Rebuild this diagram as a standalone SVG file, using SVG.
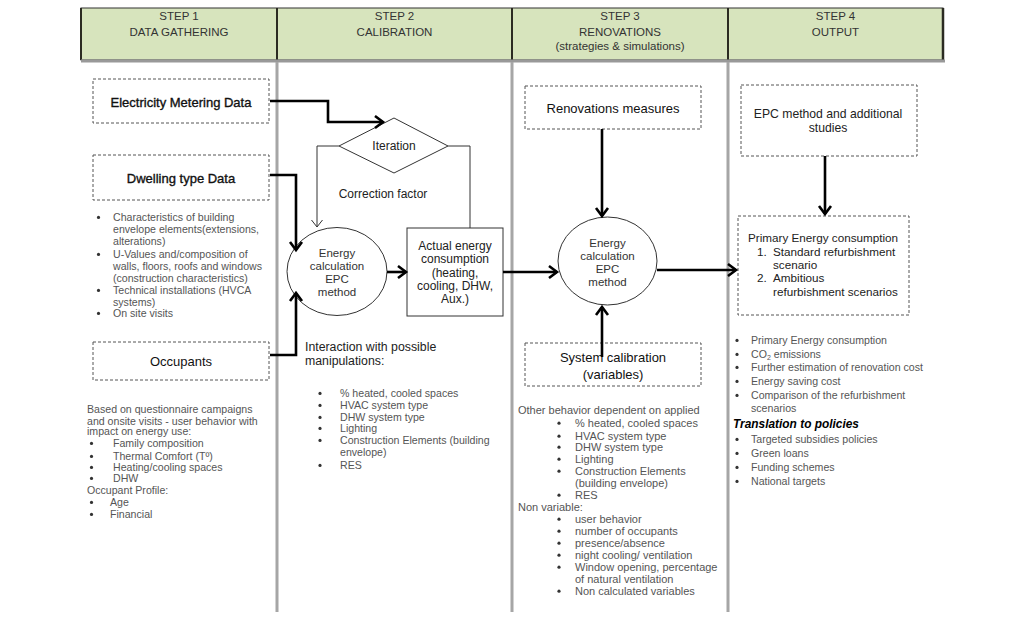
<svg xmlns="http://www.w3.org/2000/svg" width="1024" height="626" viewBox="0 0 1024 626">
<defs>
<style>
text{font-family:"Liberation Sans",Arial,sans-serif;}
.hd{font-size:11.5px;fill:#333;text-anchor:middle;}
.bt{font-size:13px;fill:#111;text-anchor:middle;}
.bb{stroke:#111;stroke-width:0.35;}
.b1{font-size:10.6px;fill:#555;}
.b3{font-size:11px;fill:#555;}
.dt{fill:#333;}
.mid{font-size:12px;fill:#222;text-anchor:middle;}
.ell{font-size:11.5px;fill:#333;text-anchor:middle;}
.dash{fill:#fff;stroke:#555;stroke-width:1;stroke-dasharray:3,2;}
.col{stroke:#a6a6a6;stroke-width:3;fill:none;}
.thick{stroke:#000;stroke-width:2.6;fill:none;}
.thin{stroke:#333;stroke-width:1;fill:none;}
</style>
<marker id="ah" markerUnits="userSpaceOnUse" markerWidth="14" markerHeight="16" refX="11" refY="8" orient="auto">
<path d="M3,2 L11,8 L3,14" fill="none" stroke="#000" stroke-width="2.6"/>
</marker>
<marker id="ahs" markerUnits="userSpaceOnUse" markerWidth="12" markerHeight="14" refX="10" refY="7" orient="auto">
<path d="M3,1.5 L10,7 L3,12.5" fill="none" stroke="#333" stroke-width="1"/>
</marker>
</defs>
<rect width="1024" height="626" fill="#fff"/>

<g id="header">
<rect x="81" y="8" width="862" height="52" fill="#d7e4bd" stroke="#333" stroke-width="1"/>
<line x1="81" y1="8" x2="81" y2="60" stroke="#2b2b22" stroke-width="2"/>
<line x1="277" y1="8" x2="277" y2="60" stroke="#2b2b22" stroke-width="2"/>
<line x1="512" y1="8" x2="512" y2="60" stroke="#2b2b22" stroke-width="2"/>
<line x1="728" y1="8" x2="728" y2="60" stroke="#2b2b22" stroke-width="2"/>
<line x1="943" y1="8" x2="943" y2="60" stroke="#2b2b22" stroke-width="2.5"/>
<line x1="81" y1="61" x2="945" y2="61" stroke="#999" stroke-width="3"/>
<text class="hd" x="179" y="20">STEP 1</text>
<text class="hd" x="179" y="36">DATA GATHERING</text>
<text class="hd" x="394.5" y="20">STEP 2</text>
<text class="hd" x="394.5" y="36">CALIBRATION</text>
<text class="hd" x="620" y="20">STEP 3</text>
<text class="hd" x="620" y="36">RENOVATIONS</text>
<text class="hd" x="620" y="50">(strategies &amp; simulations)</text>
<text class="hd" x="835.5" y="20">STEP 4</text>
<text class="hd" x="835.5" y="36">OUTPUT</text>
</g>

<g id="columns">
<line class="col" x1="277" y1="62" x2="277" y2="612"/>
<line class="col" x1="512" y1="62" x2="512" y2="612"/>
<line class="col" x1="728" y1="62" x2="728" y2="612"/>
</g>

<g id="electricity">
<rect class="dash" x="93" y="79" width="176" height="44"/>
<text class="bt bb" x="181" y="106.5">Electricity Metering Data</text>
</g>

<g id="dwelling">
<rect class="dash" x="93" y="155" width="176" height="45"/>
<text class="bt bb" x="181" y="182.5">Dwelling type Data</text>
</g>

<g id="dwelling-notes" class="b1">
<circle class="dt" cx="98.5" cy="217.4" r="1.6"/><text x="113" y="221">Characteristics of building</text>
<text x="113" y="233">envelope elements(extensions,</text>
<text x="113" y="245">alterations)</text>
<circle class="dt" cx="98.5" cy="254.4" r="1.6"/><text x="113" y="258">U-Values and/composition of</text>
<text x="113" y="270">walls, floors, roofs and windows</text>
<text x="113" y="282">(construction characteristics)</text>
<circle class="dt" cx="98.5" cy="290.4" r="1.6"/><text x="113" y="294">Technical installations (HVCA</text>
<text x="113" y="306">systems)</text>
<circle class="dt" cx="98.5" cy="313.4" r="1.6"/><text x="113" y="317">On site visits</text>
</g>

<g id="occupants">
<rect class="dash" x="93" y="342" width="176" height="38"/>
<text class="bt" x="181" y="365.5">Occupants</text>
</g>

<g id="occupant-notes" class="b1">
<text x="87" y="413">Based on questionnaire campaigns</text>
<text x="87" y="425">and onsite visits - user behavior with</text>
<text x="87" y="435">impact on energy use:</text>
<circle class="dt" cx="91.5" cy="443.4" r="1.6"/><text x="113" y="447">Family composition</text>
<circle class="dt" cx="91.5" cy="456.4" r="1.6"/><text x="113" y="460">Thermal Comfort (Tº)</text>
<circle class="dt" cx="91.5" cy="467.4" r="1.6"/><text x="113" y="471">Heating/cooling spaces</text>
<circle class="dt" cx="91.5" cy="478.4" r="1.6"/><text x="113" y="482">DHW</text>
<text x="87" y="494">Occupant Profile:</text>
<circle class="dt" cx="91.5" cy="502.4" r="1.6"/><text x="110" y="506">Age</text>
<circle class="dt" cx="91.5" cy="514.4" r="1.6"/><text x="110" y="518">Financial</text>
</g>

<g id="iteration">
<polygon points="339,146 394,118 448,146 394,173" fill="#fff" stroke="#333" stroke-width="1"/>
<text class="mid" x="394" y="150">Iteration</text>
</g>

<g id="correction-label">
<text class="mid" x="383" y="198">Correction factor</text>
</g>

<g id="epc-calc-2">
<ellipse cx="337" cy="271.5" rx="50" ry="44" fill="#fff" stroke="#333" stroke-width="1"/>
<text class="ell" x="337" y="257">Energy</text>
<text class="ell" x="337" y="270">calculation</text>
<text class="ell" x="337" y="283">EPC</text>
<text class="ell" x="337" y="296">method</text>
</g>

<g id="actual">
<rect x="407" y="228" width="96" height="88" fill="#fff" stroke="#333" stroke-width="1"/>
<text class="mid" x="455" y="250">Actual energy</text>
<text class="mid" x="455" y="263">consumption</text>
<text class="mid" x="455" y="277">(heating,</text>
<text class="mid" x="455" y="290">cooling, DHW,</text>
<text class="mid" x="455" y="303">Aux.)</text>
</g>

<g id="calibration-notes">
<text x="305" y="351" style="font-size:12.3px;fill:#222">Interaction with possible</text>
<text x="305" y="365" style="font-size:12.3px;fill:#222">manipulations:</text>
<g class="b1">
<circle class="dt" cx="320" cy="393.4" r="1.6"/><text x="340" y="397">% heated, cooled spaces</text>
<circle class="dt" cx="320" cy="405.4" r="1.6"/><text x="340" y="409">HVAC system type</text>
<circle class="dt" cx="320" cy="417.4" r="1.6"/><text x="340" y="421">DHW system type</text>
<circle class="dt" cx="320" cy="428.4" r="1.6"/><text x="340" y="432">Lighting</text>
<circle class="dt" cx="320" cy="440.4" r="1.6"/><text x="340" y="444">Construction Elements (building</text>
<text x="340" y="456">envelope)</text>
<circle class="dt" cx="320" cy="465.4" r="1.6"/><text x="340" y="469">RES</text>
</g>
</g>

<g id="renovations">
<rect class="dash" x="525" y="86" width="176" height="43"/>
<text class="bt" x="613" y="112.5">Renovations measures</text>
</g>

<g id="epc-calc-3">
<ellipse cx="607.5" cy="261" rx="49.5" ry="44" fill="#fff" stroke="#333" stroke-width="1"/>
<text class="ell" x="607.5" y="247">Energy</text>
<text class="ell" x="607.5" y="260">calculation</text>
<text class="ell" x="607.5" y="273">EPC</text>
<text class="ell" x="607.5" y="286">method</text>
</g>

<g id="system-calibration">
<rect class="dash" x="525" y="343" width="176" height="43"/>
<text class="bt" x="613" y="361.5">System calibration</text>
<text class="bt" x="613" y="378.5">(variables)</text>
</g>

<g id="renovation-notes" class="b3">
<text x="518" y="414">Other behavior dependent on applied</text>
<circle class="dt" cx="559" cy="423.2" r="1.6"/><text x="575" y="427">% heated, cooled spaces</text>
<circle class="dt" cx="559" cy="436.2" r="1.6"/><text x="575" y="440">HVAC system type</text>
<circle class="dt" cx="559" cy="447.2" r="1.6"/><text x="575" y="451">DHW system type</text>
<circle class="dt" cx="559" cy="459.2" r="1.6"/><text x="575" y="463">Lighting</text>
<circle class="dt" cx="559" cy="471.2" r="1.6"/><text x="575" y="475">Construction Elements</text>
<text x="575" y="487">(building envelope)</text>
<circle class="dt" cx="559" cy="495.2" r="1.6"/><text x="575" y="499">RES</text>
<text x="518" y="511">Non variable:</text>
<circle class="dt" cx="559" cy="519.2" r="1.6"/><text x="575" y="523">user behavior</text>
<circle class="dt" cx="559" cy="531.2" r="1.6"/><text x="575" y="535">number of occupants</text>
<circle class="dt" cx="559" cy="543.2" r="1.6"/><text x="575" y="547">presence/absence</text>
<circle class="dt" cx="559" cy="555.2" r="1.6"/><text x="575" y="559">night cooling/ ventilation</text>
<circle class="dt" cx="559" cy="567.2" r="1.6"/><text x="575" y="571">Window opening, percentage</text>
<text x="575" y="583">of natural ventilation</text>
<circle class="dt" cx="559" cy="591.2" r="1.6"/><text x="575" y="595">Non calculated variables</text>
</g>

<g id="epc-studies">
<rect class="dash" x="741" y="85" width="176" height="71"/>
<text x="828" y="118" style="font-size:12.2px;fill:#222;text-anchor:middle">EPC method and additional</text>
<text x="828" y="132" style="font-size:12.2px;fill:#222;text-anchor:middle">studies</text>
</g>

<g id="primary-energy">
<rect class="dash" x="738" y="216" width="171" height="99"/>
<g style="font-size:11.7px;fill:#222">
<text x="748" y="242">Primary Energy consumption</text>
<text x="757" y="256">1.</text><text x="773" y="256">Standard refurbishment</text>
<text x="773" y="269">scenario</text>
<text x="757" y="282">2.</text><text x="773" y="282">Ambitious</text>
<text x="773" y="296">refurbishment scenarios</text>
</g>
</g>

<g id="output-notes" class="b1">
<circle class="dt" cx="737" cy="340.4" r="1.6"/><text x="751" y="344">Primary Energy consumption</text>
<circle class="dt" cx="737" cy="354.4" r="1.6"/><text x="751" y="358">CO<tspan font-size="7" dy="2">2</tspan><tspan dy="-2"> emissions</tspan></text>
<circle class="dt" cx="737" cy="367.4" r="1.6"/><text x="751" y="371">Further estimation of renovation cost</text>
<circle class="dt" cx="737" cy="381.4" r="1.6"/><text x="751" y="385">Energy saving cost</text>
<circle class="dt" cx="737" cy="395.4" r="1.6"/><text x="751" y="399">Comparison of the refurbishment</text>
<text x="751" y="412">scenarios</text>
<text x="733" y="428" style="font-size:11.9px;fill:#000;font-weight:bold;font-style:italic">Translation to policies</text>
<circle class="dt" cx="737" cy="439.4" r="1.6"/><text x="751" y="443">Targeted subsidies policies</text>
<circle class="dt" cx="737" cy="453.4" r="1.6"/><text x="751" y="457">Green loans</text>
<circle class="dt" cx="737" cy="467.4" r="1.6"/><text x="751" y="471">Funding schemes</text>
<circle class="dt" cx="737" cy="481.4" r="1.6"/><text x="751" y="485">National targets</text>
</g>

<g id="connectors">
<path class="thick" d="M270,101 H328 V122 H383" marker-end="url(#ah)"/>
<path class="thick" d="M270,175 H296 V250" marker-end="url(#ah)"/>
<path class="thick" d="M270,355 H296 V293" marker-end="url(#ah)"/>
<path class="thin" d="M339,146 H317 V227" marker-end="url(#ahs)"/>
<path class="thin" d="M448,146 H470 V228"/>
<path class="thick" d="M387,272 H406" marker-end="url(#ah)"/>
<path class="thick" d="M503,272 H557" marker-end="url(#ah)"/>
<path class="thick" d="M602,129 V216" marker-end="url(#ah)"/>
<path class="thick" d="M602,357 V307" marker-end="url(#ah)"/>
<path class="thick" d="M657,270 H736" marker-end="url(#ah)"/>
<path class="thick" d="M825,156 V214" marker-end="url(#ah)"/>
</g>
</svg>
